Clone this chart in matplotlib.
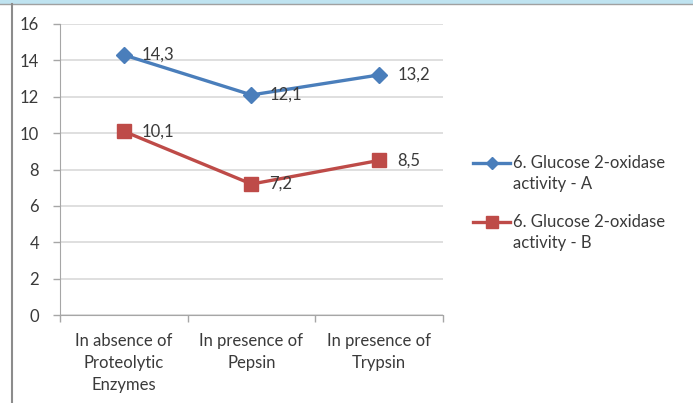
import matplotlib
matplotlib.use("Agg")
import matplotlib.pyplot as plt
from matplotlib.lines import Line2D
from matplotlib.patches import Rectangle

categories = ["In absence of\nProteolytic\nEnzymes", "In presence of\nPepsin", "In presence of\nTrypsin"]
series_a = [14.3, 12.1, 13.2]
series_b = [10.1, 7.2, 8.5]
label_a = "6. Glucose 2-oxidase\nactivity - A"
label_b = "6. Glucose 2-oxidase\nactivity - B"
yticks = [0, 2, 4, 6, 8, 10, 12, 14, 16]

plt.rcParams['font.family'] = ['Lato', 'DejaVu Sans']
FS = 12
W, H = 693, 403
fig = plt.figure(figsize=(W / 100, H / 100), dpi=100)
ax = fig.add_axes([60 / W, 1 - 315 / H, (443 - 60) / W, (315 - 24) / H])

blue = "#4A7EBB"
red = "#BE4B48"
txt = "#3A3A3A"
grid = "#D9D9D9"
axc = "#A6A6A6"

x = list(range(len(categories)))
ax.plot(x, series_a, color=blue, lw=2.4, marker="D", ms=8, mfc=blue, mec=blue, zorder=3)
ax.plot(x, series_b, color=red, lw=2.4, marker="s", ms=10, mfc=red, mec=red, zorder=3)

def fmt(v):
    return f"{v:.1f}".replace(".", ",")

for xi, v in zip(x, series_a):
    ax.annotate(fmt(v), (xi, v), xytext=(13, 0), textcoords="offset points",
                ha="left", va="center", fontsize=FS, color=txt, zorder=4)
for xi, v in zip(x, series_b):
    ax.annotate(fmt(v), (xi, v), xytext=(13, 0), textcoords="offset points",
                ha="left", va="center", fontsize=FS, color=txt, zorder=4)

ax.set_xlim(-0.5, len(categories) - 0.5)
ax.set_ylim(0, 16)
ax.set_yticks(yticks)
ax.set_yticklabels([str(t) for t in yticks], fontsize=FS, color=txt)
ax.set_xticks(x)
ax.set_xticklabels(categories, fontsize=FS, color=txt, linespacing=1.45)
ax.set_xticks([i - 0.5 for i in range(len(categories) + 1)], minor=True)
ax.tick_params(axis="x", which="major", length=0, pad=13)
ax.tick_params(axis="x", which="minor", length=5, color=axc, width=1)
ax.tick_params(axis="y", length=5, color=axc, width=1, pad=10)

ax.yaxis.grid(True, color=grid, lw=1.2)
ax.set_axisbelow(True)
for s in ["top", "right"]:
    ax.spines[s].set_visible(False)
ax.spines["left"].set_color(axc)
ax.spines["bottom"].set_color(axc)

# legend (drawn manually so the key sits on the first text line)
for (lab, col, mk, ms, ytop) in [(label_a, blue, "D", 6, 163), (label_b, red, "s", 8, 222)]:
    yf = 1 - ytop / H
    fig.add_artist(Line2D([473 / W, 510 / W], [yf, yf], transform=fig.transFigure,
                          color=col, lw=2.4))
    fig.add_artist(Line2D([491.5 / W], [yf], transform=fig.transFigure,
                          color=col, marker=mk, ms=ms, lw=0))
    fig.text(513 / W, 1 - (ytop - 8) / H, lab, fontsize=FS, color=txt,
             ha="left", va="top", linespacing=1.4)

# frame decoration
fig.patches.append(Rectangle((0, 1 - 3 / H), 1, 3 / H, transform=fig.transFigure,
                             color="#BFE3F0", zorder=0))
fig.add_artist(Line2D([0, 1], [1 - 3.5 / H, 1 - 3.5 / H], transform=fig.transFigure,
                      color="#A0A0A0", lw=1))
fig.add_artist(Line2D([11.5 / W, 11.5 / W], [0, 1 - 3.5 / H], transform=fig.transFigure,
                      color="#8C8C8C", lw=1.5))

fig.savefig("out.png", dpi=100)
